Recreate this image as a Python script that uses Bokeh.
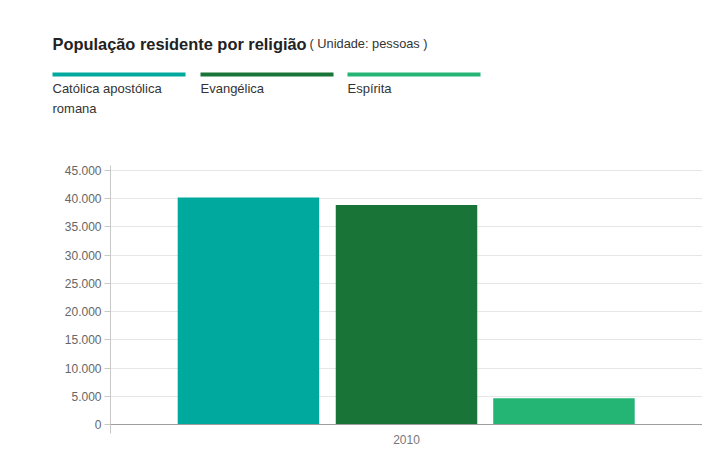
from bokeh.plotting import figure
from bokeh.models import (Range1d, FactorRange, FixedTicker, CustomJSTickFormatter,
                          Span, ColumnDataSource)
from bokeh.transform import dodge
from bokeh.core.properties import value
from bokeh.embed import file_html
from bokeh.resources import INLINE

# ---- data ----
title = "População residente por religião"
subtitle = "( Unidade: pessoas )"
years = ["2010"]
series = ["Católica apostólica romana", "Evangélica", "Espírita"]
legend_lines = [["Católica apostólica", "romana"], ["Evangélica"], ["Espírita"]]
values_2010 = [40200, 38900, 4650]
colors = ["#00a99d", "#187537", "#24b574"]
y_ticks = [0, 5000, 10000, 15000, 20000, 25000, 30000, 35000, 40000, 45000]

FONT = "Liberation Sans"
W = 702

# ---- header (title + legend) ----
HH = 158
h = figure(width=W, height=HH, x_range=Range1d(0, W), y_range=Range1d(HH, 0),
           output_backend="svg", toolbar_location=None, min_border=0)
h.axis.visible = False
h.grid.visible = False
h.outline_line_color = None

h.text(x=[52], y=[43], text=[title], text_font=value(FONT), text_font_size="16.4px",
       text_font_style="bold", text_color="#222222", text_baseline="alphabetic")
h.text(x=[309], y=[43], text=[subtitle], text_font=value(FONT), text_font_size="12.8px",
       text_color="#333333", text_baseline="alphabetic")

leg_x = [52, 200, 347]
leg_w = 133
for i, (lx, col, lines) in enumerate(zip(leg_x, colors, legend_lines)):
    h.quad(left=[lx], right=[lx + leg_w], top=[72], bottom=[76], fill_color=col, line_color=None)
    for j, ln in enumerate(lines):
        h.text(x=[lx], y=[87.5 + j * 20], text=[ln], text_font=value(FONT),
               text_font_size="13px", text_color="#333333", text_baseline="alphabetic")

# ---- chart ----
p = figure(width=W, height=300, x_range=FactorRange(*years, range_padding=0),
           y_range=Range1d(-1594, 45886), output_backend="svg", toolbar_location=None,
           min_border_left=110, min_border_right=0, min_border_top=7, min_border_bottom=25)
p.outline_line_color = None

offsets = [-0.267, 0.0, 0.266]
for name, val, col, off in zip(series, values_2010, colors, offsets):
    s = ColumnDataSource(dict(year=years, v=[val]))
    p.vbar(x=dodge("year", off, range=p.x_range), top="v", bottom=0, width=0.239, source=s,
           fill_color=col, line_color=None)

base = Span(location=0, dimension="width", line_color="#9e9e9e", line_width=1)
p.add_layout(base)

p.yaxis.ticker = FixedTicker(ticks=y_ticks)
p.yaxis.formatter = CustomJSTickFormatter(
    code='return tick.toString().replace(/\\B(?=(\\d{3})+(?!\\d))/g, ".");')
p.yaxis.axis_line_color = "#c8c8c8"
p.yaxis.major_tick_line_color = "#c8c8c8"
p.yaxis.major_tick_out = 6
p.yaxis.major_tick_in = 0
p.yaxis.minor_tick_line_color = None
p.yaxis.major_label_standoff = 3
p.yaxis.major_label_text_font = FONT
p.yaxis.major_label_text_font_size = "12px"
p.yaxis.major_label_text_color = "#666666"

p.xaxis.axis_line_color = None
p.xaxis.major_tick_line_color = None
p.xaxis.minor_tick_line_color = None
p.xaxis.major_tick_out = 0
p.xaxis.major_label_standoff = 1
p.xaxis.major_label_text_font = FONT
p.xaxis.major_label_text_font_size = "12px"
p.xaxis.major_label_text_color = "#777777"

p.xgrid.grid_line_color = None
p.ygrid.ticker = FixedTicker(ticks=y_ticks[1:])
p.ygrid.grid_line_color = "#e6e6e6"

open("out.html", "w").write(file_html([h, p], INLINE))
